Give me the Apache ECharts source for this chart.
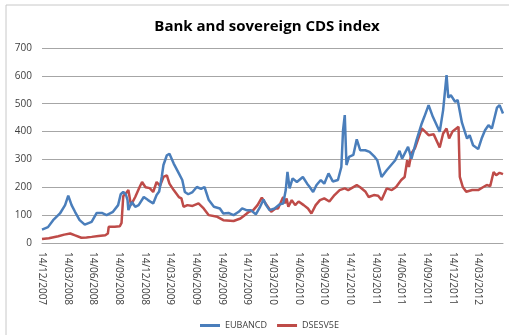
<!DOCTYPE html>
<html lang="en">
<head>
    <meta charset="UTF-8">
    <title>Bank and sovereign CDS index</title>
    <script src="https://cdn.jsdelivr.net/npm/echarts@6/dist/echarts.min.js"></script>
    <style>
        html, body { margin: 0; padding: 0; background: #fff; }
        #main { width: 509px; height: 335px; }
    </style>
</head>
<body>
    <div id="main"></div>
    <script>
        // x values are months since 14/12/2007
        var tickLabels = ['14/12/2007', '14/03/2008', '14/06/2008', '14/09/2008', '14/12/2008', '14/03/2009',
            '14/06/2009', '14/09/2009', '14/12/2009', '14/03/2010', '14/06/2010', '14/09/2010',
            '14/12/2010', '14/03/2011', '14/06/2011', '14/09/2011', '14/12/2011', '14/03/2012'];

        var eubancdT = [0, 0.7, 1.3, 2.1, 2.7, 3.07, 3.46, 3.86, 4.4, 5.0, 5.8, 6.4, 7.0, 7.55, 8.3, 8.9, 9.2, 9.5, 9.8,
            10.0, 10.1, 10.5, 10.9, 11.3, 11.9, 12.4, 13.0, 13.4, 13.7, 14.0, 14.2, 14.6, 14.9, 15.1, 15.4, 16.0, 16.4,
            16.7, 17.1, 17.6, 18.1, 18.6, 19.0, 19.5, 20.1, 20.8, 21.2, 21.8, 22.4, 23.0, 23.4, 23.9, 24.4, 25.0, 25.5,
            25.9, 26.2, 26.6, 27.2, 27.8, 28.2, 28.5, 28.7, 28.95, 29.3, 29.8, 30.5, 31.0, 31.3, 31.7, 32.1, 32.6, 33.0,
            33.5, 34.0, 34.6, 35.0, 35.2, 35.4, 35.6, 35.9, 36.4, 36.8, 37.2, 37.8, 38.3, 38.9, 39.2, 39.7, 40.3, 41.3,
            41.8, 42.1, 42.8, 43.2, 43.8, 44.4, 44.7, 45.2, 45.7, 46.5, 46.9, 47.3, 47.5, 47.8, 48.3, 48.6, 49.1, 49.7,
            50.0, 50.4, 51.0, 51.4, 51.8, 52.2, 52.6, 53.2, 53.5, 53.9];
        var eubancdV = [48, 57, 82, 106, 136, 170, 136, 112, 82, 66, 76, 108, 108, 100, 112, 136, 175, 183, 175,
            154, 118, 147, 130, 136, 165, 154, 142, 172, 185, 237, 280, 315, 320, 315, 285, 250, 226,
            183, 175, 183, 201, 194, 201, 154, 130, 124, 106, 108, 100, 112, 124, 118, 118, 103, 130,
            156, 136, 118, 124, 139, 142, 190, 255, 196, 232, 219, 237, 213, 201, 183, 208, 226, 213,
            250, 221, 226, 273, 405, 459, 280, 309, 316, 372, 333, 333, 327, 309, 297, 237, 261, 297,
            331, 303, 345, 303, 370, 429, 453, 495, 453, 399, 477, 603, 522, 531, 507, 513, 432, 375,
            387, 351, 337, 375, 405, 423, 411, 486, 495, 465];

        var dsesvT = [0, 0.8, 1.9, 2.6, 3.3, 3.8, 4.6, 5.2, 5.8, 6.6, 7.4, 7.7, 7.8, 8.5, 9.1, 9.3, 9.5, 9.8, 10.1,
            10.4, 10.9, 11.4, 11.7, 12.1, 12.6, 13.0, 13.4, 13.8, 14.2, 14.6, 14.9, 15.4, 16.0, 16.3, 16.55, 17.0, 17.6,
            18.3, 18.9, 19.5, 20.5, 21.2, 22.4, 23.2, 23.7, 24.2, 24.7, 25.2, 25.7, 26.0, 26.8, 27.3, 27.6, 28.2, 28.4,
            28.6, 28.8, 29.2, 29.6, 30.0, 30.6, 31.1, 31.5, 32.0, 32.5, 33.0, 33.6, 34.2, 34.8, 35.4, 35.8, 36.8, 37.2,
            37.8, 38.2, 38.8, 39.3, 39.7, 40.3, 40.9, 41.4, 42.0, 42.4, 42.7, 42.9, 43.2, 43.6, 44.4, 44.8, 45.2, 45.8,
            46.5, 46.9, 47.3, 47.6, 48.0, 48.7, 48.85, 49.2, 49.6, 50.3, 51.0, 51.6, 52.0, 52.4, 52.8, 53.1, 53.5, 53.9];
        var dsesvV = [14, 17, 24, 30, 34, 28, 19, 20, 22, 25, 28, 34, 58, 58, 60, 72, 168, 178, 190,
            136, 165, 200, 219, 200, 197, 183, 219, 205, 237, 243, 213, 190, 165, 160, 130, 136, 133,
            142, 124, 100, 94, 82, 79, 88, 100, 112, 118, 136, 163, 148, 112, 124, 124, 165, 142,
            160, 130, 154, 136, 149, 136, 124, 106, 136, 154, 160, 149, 172, 190, 196, 190, 208, 200,
            185, 165, 172, 170, 154, 196, 190, 201, 226, 237, 297, 273, 322, 340, 411, 400, 387, 390,
            343, 393, 411, 375, 400, 417, 237, 201, 184, 190, 190, 201, 208, 204, 255, 243, 252, 247];

        function pairs(t, v) {
            return t.map(function (x, i) { return [x, v[i]]; });
        }

        var chart = echarts.init(document.getElementById('main'));
        var labelFont = { fontFamily: 'Open Sans', fontSize: 10, color: '#404040' };

        var option = {
            animation: false,
            title: {
                text: 'Bank and sovereign CDS index',
                left: 262,
                top: 14,
                textAlign: 'center',
                textStyle: { fontFamily: 'Open Sans', fontSize: 15, fontWeight: 'bold', color: '#000' }
            },
            graphic: [{
                type: 'rect',
                shape: { x: 6, y: 5, width: 520, height: 350 },
                style: { fill: 'none', stroke: '#c8c8c8', lineWidth: 1 },
                silent: true
            }],
            legend: {
                top: 316,
                left: 195,
                icon: 'rect',
                itemWidth: 20,
                itemHeight: 3,
                itemGap: 10,
                textStyle: { fontFamily: 'Open Sans', fontSize: 9, color: '#404040' },
                data: ['EUBANCD', 'DSESV5E']
            },
            grid: { left: 42, right: 6, top: 48, bottom: 92 },
            xAxis: {
                type: 'value',
                min: 0,
                max: 53.9,
                interval: 3,
                axisLine: { lineStyle: { color: '#a6a6a6' } },
                axisTick: { show: false },
                splitLine: { show: false },
                axisLabel: Object.assign({
                    rotate: -90,
                    margin: 9,
                    showMaxLabel: false,
                    formatter: function (v) { return tickLabels[Math.round(v / 3)] || ''; }
                }, labelFont)
            },
            yAxis: {
                type: 'value',
                min: 0,
                max: 700,
                interval: 100,
                axisLine: { show: false },
                axisTick: { show: false },
                splitLine: { lineStyle: { color: '#a6a6a6' } },
                axisLabel: Object.assign({ margin: 10 }, labelFont)
            },
            series: [
                {
                    name: 'EUBANCD',
                    type: 'line',
                    data: pairs(eubancdT, eubancdV),
                    showSymbol: false,
                    symbol: 'none',
                    color: '#4a7ebb',
                    lineStyle: { width: 2.5 },
                    z: 3
                },
                {
                    name: 'DSESV5E',
                    type: 'line',
                    data: pairs(dsesvT, dsesvV),
                    showSymbol: false,
                    symbol: 'none',
                    color: '#be4b48',
                    lineStyle: { width: 2.5 },
                    z: 2
                }
            ]
        };

        chart.setOption(option);
    </script>
</body>
</html>
